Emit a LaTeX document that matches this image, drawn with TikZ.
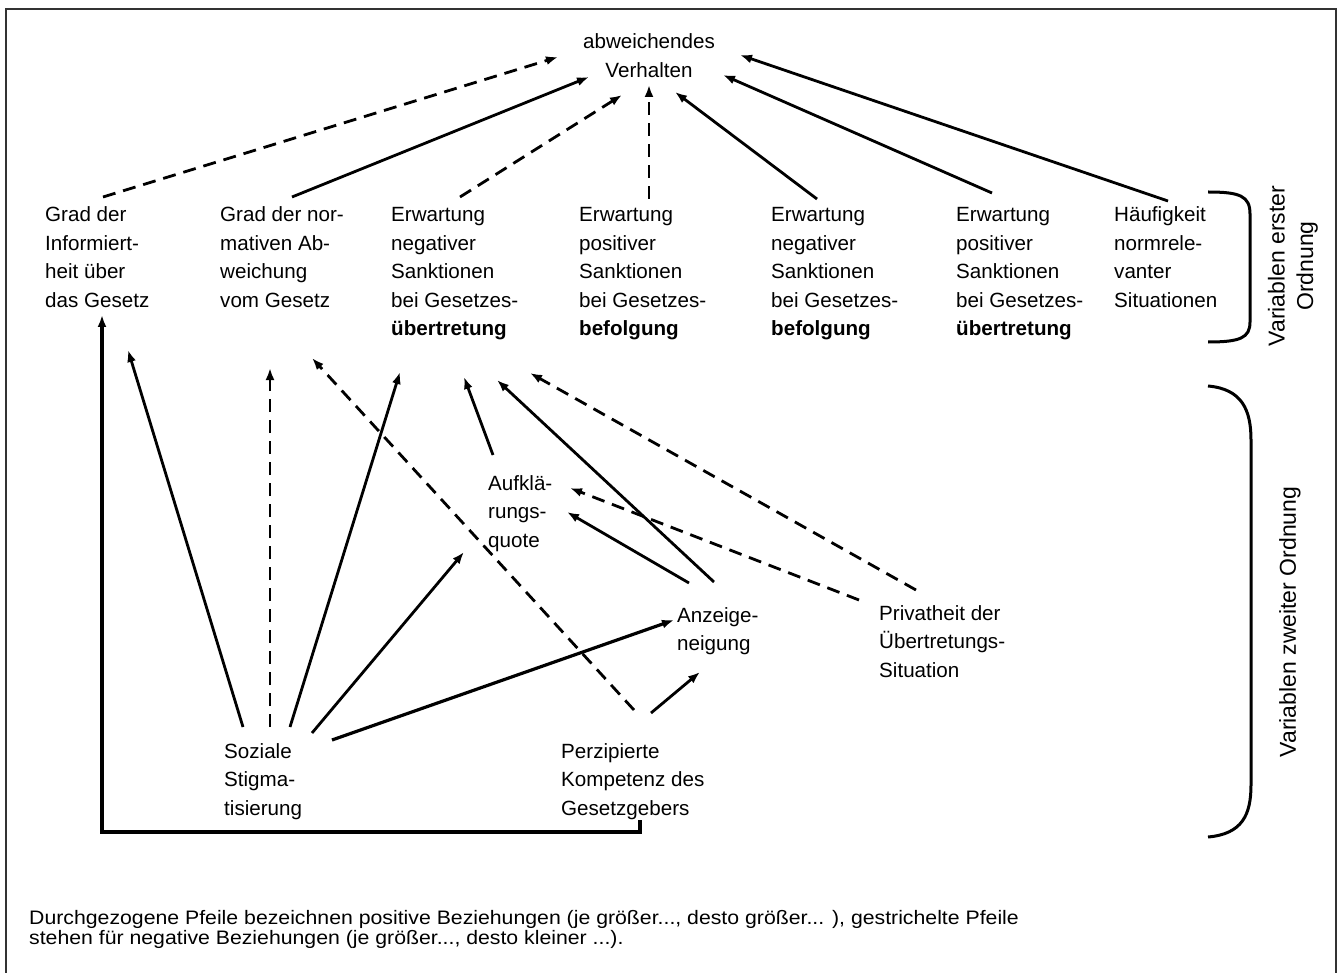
\documentclass[tikz,border=0pt]{standalone}
\usepackage{fontspec}
\setmainfont{Liberation Sans}
\newfontfamily\capfont[FakeStretch=1.09]{Liberation Sans}
\usetikzlibrary{arrows.meta}
\newcommand\fsz{\fontsize{20.6pt}{28.5pt}\selectfont}
\newcommand\capsz{\capfont\fontsize{19.5pt}{20.5pt}\selectfont}
\newcommand\lblsz{\fontsize{23pt}{28.5pt}\selectfont}
\newcommand\ml[1]{\begin{tabular}[t]{@{}l@{}}#1\end{tabular}}
\newcommand\mc[1]{\begin{tabular}[t]{@{}c@{}}#1\end{tabular}}
\begin{document}
\begin{tikzpicture}[x=1pt,y=-1pt,
  txt/.style={inner sep=0pt, anchor=base west, font=\fsz},
  lbl/.style={inner sep=0pt, rotate=90, font=\lblsz, align=center},
  posarr/.style={line width=2.8pt, -{Latex[length=12pt,width=9pt]}},
  negarr/.style={posarr, dash pattern=on 13pt off 8pt},
  bracestyle/.style={line width=3pt},
  framestyle/.style={line width=2pt, draw=black!80}]
\useasboundingbox (0,0) rectangle (1343,973);
\draw[framestyle] (6,980) -- (6,9) -- (1336,9) -- (1336,980);

% nodes
\node[txt, anchor=base] (av) at (649,49) {\mc{abweichendes\\Verhalten}};
\node[txt] (inf) at (45,222) {\ml{Grad der\\Informiert-\\heit über\\das Gesetz}};
\node[txt] (abw) at (220,222) {\ml{Grad der nor-\\mativen Ab-\\weichung\\vom Gesetz}};
\node[txt] (enu) at (391,222) {\ml{Erwartung\\negativer\\Sanktionen\\bei Gesetzes-\\\textbf{übertretung}}};
\node[txt] (epb) at (579,222) {\ml{Erwartung\\positiver\\Sanktionen\\bei Gesetzes-\\\textbf{befolgung}}};
\node[txt] (enb) at (771,222) {\ml{Erwartung\\negativer\\Sanktionen\\bei Gesetzes-\\\textbf{befolgung}}};
\node[txt] (epu) at (956,222) {\ml{Erwartung\\positiver\\Sanktionen\\bei Gesetzes-\\\textbf{übertretung}}};
\node[txt] (hfg) at (1114,222) {\ml{Häufigkeit\\normrele-\\vanter\\Situationen}};

\node[txt] (auf) at (488,490) {\ml{Aufklä-\\rungs-\\quote}};
\node[txt] (anz) at (677,622) {\ml{Anzeige-\\neigung}};
\node[txt] (pri) at (879,620) {\ml{Privatheit der\\Übertretungs-\\Situation}};
\node[txt] (soz) at (224,758) {\ml{Soziale\\Stigma-\\tisierung}};
\node[txt] (per) at (561,758) {\ml{Perzipierte\\Kompetenz des\\Gesetzgebers}};

\node[lbl] (l1) at (1293,266) {Variablen erster\\Ordnung};
\node[lbl] (l2) at (1290,622) {Variablen zweiter Ordnung};

\node[inner sep=0pt, anchor=base west, font=\capsz] (cap) at (29,924)
  {\ml{Durchgezogene Pfeile bezeichnen positive Beziehungen (je größer..., desto größer... ), gestrichelte Pfeile\\
   stehen für negative Beziehungen (je größer..., desto kleiner ...).}};

% braces
\draw[bracestyle] (1208,192) .. controls (1240,192) and (1250,196) .. (1250,214) -- (1250,322)
  .. controls (1250,338) and (1240,342) .. (1208,342);
\draw[bracestyle] (1208,386) .. controls (1242,389) and (1251,410) .. (1251,440) -- (1251,785)
  .. controls (1251,815) and (1242,834) .. (1208,837);

% connector end points
\coordinate (inf-o) at (103,197);  \coordinate (av-1) at (558,57);
\coordinate (abw-o) at (292,197);  \coordinate (av-2) at (589,77);
\coordinate (enu-o) at (460,197);  \coordinate (av-3) at (622,95);
\coordinate (epb-o) at (649,199);  \coordinate (av-4) at (649,85);
\coordinate (enb-o) at (817,199);  \coordinate (av-5) at (675,92);
\coordinate (epu-o) at (992,193);  \coordinate (av-6) at (723,75);
\coordinate (hfg-o) at (1168,201); \coordinate (av-7) at (740,55);

\draw[negarr] (inf-o) -- (av-1);
\draw[posarr] (abw-o) -- (av-2);
\draw[negarr] (enu-o) -- (av-3);
\draw[negarr] (epb-o) -- (av-4);
\draw[posarr] (enb-o) -- (av-5);
\draw[posarr] (epu-o) -- (av-6);
\draw[posarr] (hfg-o) -- (av-7);

% second order
\coordinate (soz-1) at (243,727); \coordinate (inf-i1) at (128,350);
\coordinate (soz-2) at (270,727); \coordinate (abw-i1) at (270,368);
\coordinate (soz-3) at (290,727); \coordinate (enu-i1) at (400,372);
\coordinate (soz-4) at (312,733); \coordinate (auf-i1) at (464,552);
\coordinate (soz-5) at (332,740); \coordinate (anz-i1) at (674,620);
\coordinate (per-1) at (634,710); \coordinate (abw-i2) at (312,358);
\coordinate (per-2) at (651,713); \coordinate (anz-i2) at (700,672);
\coordinate (auf-o) at (493,455); \coordinate (enu-i2) at (464,377);
\coordinate (anz-1) at (714,582); \coordinate (enu-i3) at (497,380);
\coordinate (anz-2) at (689,583); \coordinate (auf-i2) at (567,512);
\coordinate (pri-1) at (859,600); \coordinate (auf-i3) at (570,488);
\coordinate (pri-2) at (916,590); \coordinate (enu-i4) at (530,373);
\coordinate (per-b) at (640,820); \coordinate (inf-i2) at (102,315);
\coordinate (corner) at (102,832);

\draw[posarr] (soz-1) -- (inf-i1);
\draw[negarr] (soz-2) -- (abw-i1);
\draw[posarr] (soz-3) -- (enu-i1);
\draw[posarr] (soz-4) -- (auf-i1);
\draw[posarr, line width=3.2pt] (soz-5) -- (anz-i1);
\draw[negarr] (per-1) -- (abw-i2);
\draw[posarr] (per-2) -- (anz-i2);
\draw[posarr] (auf-o) -- (enu-i2);
\draw[posarr] (anz-1) -- (enu-i3);
\draw[posarr] (anz-2) -- (auf-i2);
\draw[negarr] (pri-1) -- (auf-i3);
\draw[negarr] (pri-2) -- (enu-i4);
\draw[posarr, line width=3.2pt] (per-b) |- (corner) -- (inf-i2);
\end{tikzpicture}
\end{document}
